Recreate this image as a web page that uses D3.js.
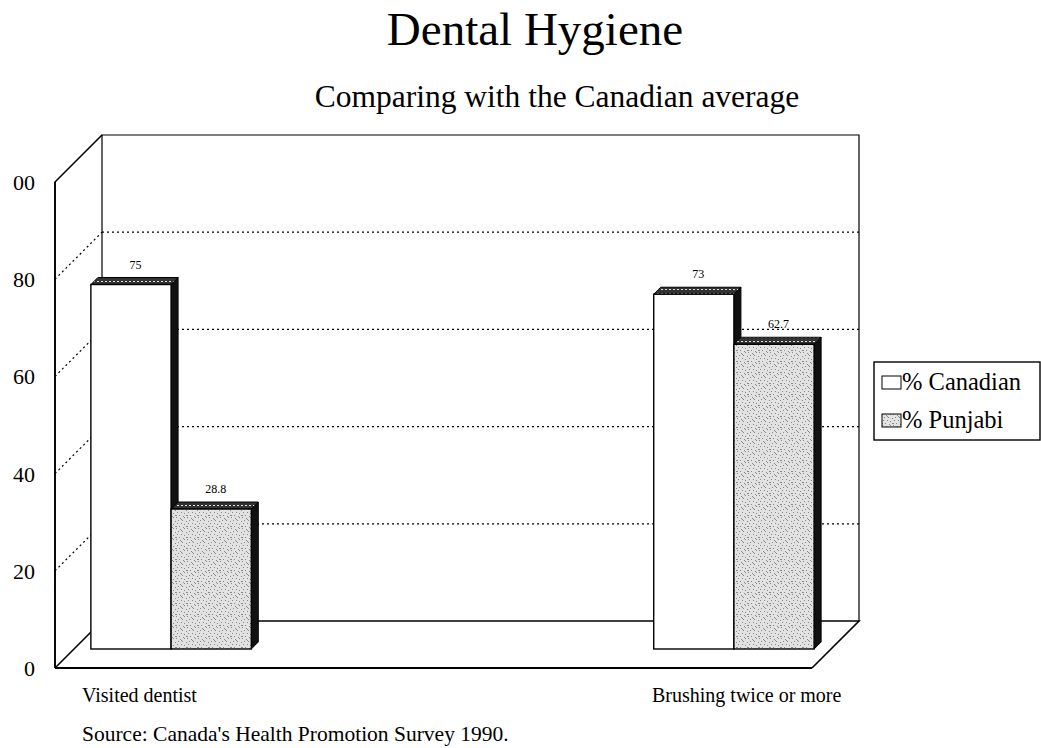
<!DOCTYPE html>
<html>
<head>
<meta charset="utf-8">
<script src="https://cdn.jsdelivr.net/npm/d3@7"></script>
<style>
  body { margin: 0; background: #fff; }
  text { font-family: "Times New Roman", "Liberation Serif", serif; fill: #000; }
</style>
</head>
<body>
<svg id="chart" width="1041" height="748"></svg>
<script>
// data
const categories = ["Visited dentist", "Brushing twice or more"];
const seriesNames = ["% Canadian", "% Punjabi"];
const canadianValues = [75, 73];
const punjabiValues = [28.8, 62.7];
const valueLabels = [["75", "28.8"], ["73", "62.7"]];
const yTicks = [0, 20, 40, 60, 80, 100];
const gridValues = [20, 40, 60, 80];

const svg = d3.select("#chart");

// front plane + depth offset (oblique 3d look)
const frontLeft = 55, frontRight = 812;
const depth = 47;          // back wall offset
const barZ = 19;           // where the bars stand
const barDepth = 7;        // thickness of the bars

const y = d3.scaleLinear().domain([0, 100]).range([668, 182]);
const x0 = d3.scaleBand()
  .domain(categories)
  .range([frontLeft, frontRight])
  .paddingInner(0.715)
  .paddingOuter(0.03);
const x1 = d3.scaleBand()
  .domain(seriesNames)
  .range([0, x0.bandwidth()]);

// project a point on the front plane pushed back by z
const px = (xx, z) => xx + z;
const py = (v, z) => y(v) - z;

// stipple pattern for the punjabi bars
const defs = svg.append("defs");
const pat = defs.append("pattern")
  .attr("id", "stipple")
  .attr("width", 11).attr("height", 11)
  .attr("patternUnits", "userSpaceOnUse");
pat.append("rect").attr("width", 11).attr("height", 11).attr("fill", "#e2e2e2");
[[0,0],[4,1],[8,0],[2,3],[6,3],[10,4],[1,6],[5,6],[8,7],[3,9],[7,10],[10,9],[0,9],[5,2]].forEach(([a, b]) => {
  pat.append("rect").attr("x", a).attr("y", b).attr("width", 1).attr("height", 1).attr("fill", "#8a8a8a");
});
const patTop = defs.append("pattern")
  .attr("id", "topdark")
  .attr("width", 4).attr("height", 4)
  .attr("patternUnits", "userSpaceOnUse");
patTop.append("rect").attr("width", 4).attr("height", 4).attr("fill", "#333");
patTop.append("rect").attr("x", 1).attr("y", 1).attr("width", 2).attr("height", 1).attr("fill", "#ddd");

const colors = { "% Canadian": "#ffffff", "% Punjabi": "url(#stipple)" };

// clip for the tick labels (the left edge of the scan cuts them)
defs.append("clipPath").attr("id", "leftcut")
  .append("rect").attr("x", 12).attr("y", 0).attr("width", 60).attr("height", 748);

// back wall
const wall = svg.append("g");
wall.append("path")
  .attr("d", `M${px(frontLeft, depth)},${py(0, depth)} V${py(100, depth)} H${px(frontRight, depth)} V${py(0, depth)}`)
  .attr("fill", "none").attr("stroke", "#000").attr("stroke-width", 1.2);

// gridlines on back wall and side wall
gridValues.forEach(v => {
  wall.append("line")
    .attr("x1", px(frontLeft, depth)).attr("x2", px(frontRight, depth))
    .attr("y1", py(v, depth)).attr("y2", py(v, depth))
    .attr("stroke", "#000").attr("stroke-width", 1.2).attr("stroke-dasharray", "2,3");
  wall.append("line")
    .attr("x1", px(frontLeft, 0)).attr("x2", px(frontLeft, depth))
    .attr("y1", py(v, 0)).attr("y2", py(v, depth))
    .attr("stroke", "#000").attr("stroke-width", 1.2).attr("stroke-dasharray", "2,3");
});

// floor (back edge and left diagonal drawn behind bars)
wall.append("path")
  .attr("d", `M${px(frontLeft, 0)},${py(0, 0)} L${px(frontLeft, depth)},${py(0, depth)} H${px(frontRight, depth)} L${px(frontRight, 0)},${py(0, 0)}`)
  .attr("fill", "none").attr("stroke", "#000").attr("stroke-width", 1.6);

// side wall outline
wall.append("path")
  .attr("d", `M${px(frontLeft, 0)},${py(0, 0)} V${py(100, 0)} L${px(frontLeft, depth)},${py(100, depth)}`)
  .attr("fill", "none").attr("stroke", "#000").attr("stroke-width", 1.6);

// bars
const rows = categories.map((c, i) => ({
  cat: c,
  vals: [
    { name: seriesNames[0], value: canadianValues[i], label: valueLabels[i][0] },
    { name: seriesNames[1], value: punjabiValues[i], label: valueLabels[i][1] }
  ]
}));

const groups = svg.selectAll(".grp")
  .data(rows)
  .enter()
  .append("g")
  .attr("class", "grp");

const bars = groups.selectAll(".bar")
  .data(d => d.vals.map(v => Object.assign({ cat: d.cat }, v)))
  .enter()
  .append("g")
  .attr("class", "bar");

bars.each(function (d) {
  const g = d3.select(this);
  const xl = px(x0(d.cat) + x1(d.name), barZ);
  const xr = xl + x1.bandwidth();
  const yt = py(d.value, barZ);
  const yb = py(0, barZ);
  const k = barDepth;
  // right side
  g.append("path")
    .attr("d", `M${xr},${yt} L${xr + k},${yt - k} V${yb - k} L${xr},${yb} Z`)
    .attr("fill", "#111").attr("stroke", "#000").attr("stroke-width", 1);
  // top
  g.append("path")
    .attr("d", `M${xl},${yt} L${xl + k},${yt - k} H${xr + k} L${xr},${yt} Z`)
    .attr("fill", "url(#topdark)").attr("stroke", "#000").attr("stroke-width", 1);
  // front
  g.append("rect")
    .attr("x", xl).attr("y", yt)
    .attr("width", x1.bandwidth()).attr("height", yb - yt)
    .attr("fill", colors[d.name]).attr("stroke", "#000").attr("stroke-width", 1.4);
  // value label
  g.append("text")
    .attr("x", (xl + xr) / 2 + k / 2 + 1)
    .attr("y", yt - k - 9)
    .attr("text-anchor", "middle")
    .attr("font-size", 12)
    .text(d.label);
});

// front floor edge
svg.append("line")
  .attr("x1", px(frontLeft, 0)).attr("x2", px(frontRight, 0))
  .attr("y1", py(0, 0)).attr("y2", py(0, 0))
  .attr("stroke", "#000").attr("stroke-width", 2);
svg.append("line")
  .attr("x1", px(frontLeft, 0)).attr("x2", px(frontLeft, 0))
  .attr("y1", py(0, 0)).attr("y2", py(100, 0))
  .attr("stroke", "#000").attr("stroke-width", 1.6);

// y tick labels
svg.append("g")
  .attr("clip-path", "url(#leftcut)")
  .selectAll("text")
  .data(yTicks)
  .enter()
  .append("text")
  .attr("x", 35)
  .attr("y", d => y(d) + 8)
  .attr("text-anchor", "end")
  .attr("font-size", 22)
  .text(d => d);

// category labels
const catX = [82, 652];
svg.selectAll(".cat")
  .data(categories)
  .enter()
  .append("text")
  .attr("class", "cat")
  .attr("x", (d, i) => catX[i])
  .attr("y", 702)
  .attr("font-size", 20)
  .text(d => d);

// titles
svg.append("text")
  .attr("x", 535).attr("y", 45)
  .attr("text-anchor", "middle")
  .attr("font-size", 47)
  .text("Dental Hygiene");

svg.append("text")
  .attr("x", 557).attr("y", 107)
  .attr("text-anchor", "middle")
  .attr("font-size", 31.5)
  .text("Comparing with the Canadian average");

// source
svg.append("text")
  .attr("x", 82).attr("y", 741)
  .attr("font-size", 21.5)
  .text("Source: Canada's Health Promotion Survey 1990.");

// legend
const legend = svg.append("g").attr("transform", "translate(874,362)");
legend.append("rect")
  .attr("width", 166).attr("height", 78)
  .attr("fill", "#fff").attr("stroke", "#000").attr("stroke-width", 1.4);
const items = legend.selectAll(".item")
  .data(seriesNames)
  .enter()
  .append("g")
  .attr("class", "item")
  .attr("transform", (d, i) => `translate(8, ${14 + i * 38})`);
items.append("rect")
  .attr("width", 19).attr("height", 13)
  .attr("fill", d => colors[d]).attr("stroke", "#000").attr("stroke-width", 1);
items.append("text")
  .attr("x", 20).attr("y", 14)
  .attr("font-size", 24.5)
  .text(d => d);
</script>
</body>
</html>
